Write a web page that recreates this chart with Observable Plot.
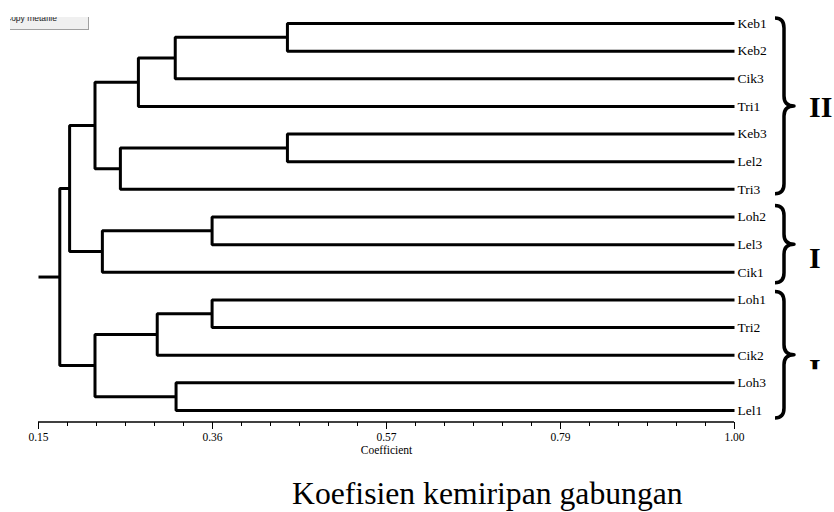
<!DOCTYPE html>
<html>
<head>
<meta charset="utf-8">
<script src="https://cdn.jsdelivr.net/npm/d3@7"></script>
<script src="https://cdn.jsdelivr.net/npm/@observablehq/plot@0.6"></script>
<style>
  html, body { margin: 0; padding: 0; background: #fff; }
  #wrap { position: relative; width: 834px; height: 512px; overflow: hidden; font-family: "Liberation Serif", "Times New Roman", serif; }
  #chart svg { display: block; }
  #title { position: absolute; left: 292px; top: 478px; font-size: 31.7px; line-height: 31px; white-space: nowrap; color: #000; font-family: "Liberation Serif", "Times New Roman", serif; }
  #btn { position: absolute; left: 10px; top: 17px; width: 78px; height: 12px; background: #f0f0f0; border-right: 1px solid #a0a0a0; border-bottom: 1px solid #a0a0a0; overflow: hidden; }
  #btn span { position: absolute; left: -5px; top: -4px; font: 8.5px "Liberation Sans", Arial, sans-serif; color: #222; white-space: nowrap; }
</style>
</head>
<body>
<div id="wrap">
  <div id="chart"></div>
  <div id="btn"><span>Copy metafile</span></div>
  <div id="title"></div>
</div>
<script>
// ---- data ----
const leaves = ["Keb1","Keb2","Cik3","Tri1","Keb3","Lel2","Tri3","Loh2","Lel3","Cik1","Loh1","Tri2","Cik2","Loh3","Lel1"];
const nodeIds   = ["n0","n1","n2","n3","n4","n5","n6","n7","n8","n9","n10","n11","n12","n13"];
const nodeLeft  = ["Keb1","n0","n1","Keb3","n3","n2","Loh2","n6","n5","Loh1","n9","Loh3","n10","n8"];
const nodeRight = ["Keb2","Cik3","Tri1","Lel2","Tri3","n4","Lel3","Cik1","n7","Tri2","Cik2","Lel1","n11","n12"];
const nodeCoef  = [0.454,0.317,0.272,0.454,0.250,0.219,0.362,0.228,0.188,0.362,0.295,0.318,0.219,0.176];
const tickValues = [0.15, 0.3625, 0.575, 0.7875, 1.00];
const tickLabels = ["0.15","0.36","0.57","0.79","1.00"];
const axisLabel = "Coefficient";
const groupLabels = ["II","I","I"];
const groupFirst  = ["Keb1","Loh2","Loh1"];
const groupLast   = ["Tri3","Cik1","Lel1"];
const titleText = "Koefisien kemiripan gabungan";

const SERIF = '"Liberation Serif", "Times New Roman", serif';

// ---- build tree geometry (data space) ----
const xMin = tickValues[0], xMax = tickValues[tickValues.length - 1];
const pos = {};
leaves.forEach((name, i) => { pos[name] = {h: xMax, y: i}; });
const segments = [];
nodeIds.forEach((id, i) => {
  const a = pos[nodeLeft[i]], b = pos[nodeRight[i]], h = nodeCoef[i];
  pos[id] = {h, y: (a.y + b.y) / 2};
  segments.push({id, x: a.h, y: a.y}, {id, x: h, y: a.y}, {id, x: h, y: b.y}, {id, x: b.h, y: b.y});
});
const root = pos[nodeIds[nodeIds.length - 1]];
segments.push({id: "root", x: xMin, y: root.y}, {id: "root", x: root.h, y: root.y});
const leafRows = leaves.map((name, i) => ({name, h: xMax, y: i}));
const minorTicks = d3.range(25).map(i => xMin + i * (xMax - xMin) / 24);

const W = 834, H = 470, MB = 48;
const chart = Plot.plot({
  width: W, height: H,
  marginLeft: 38, marginRight: 100, marginTop: 23, marginBottom: MB,
  x: {domain: [xMin, xMax], label: null},
  y: {domain: [0, leaves.length - 1], range: [23, 410], axis: null},
  style: {fontFamily: SERIF, fontSize: "11.5px", color: "#000", background: "#fff", overflow: "visible"},
  marks: [
    Plot.axisX({ticks: minorTicks, tickSize: 4, tickFormat: () => "", label: null}),
    Plot.axisX({ticks: tickValues, tickSize: 7, tickPadding: 3, tickFormat: d => tickLabels[tickValues.indexOf(d)], label: null, fill: "#000", fontFamily: SERIF, fontSize: 11.5}),
    Plot.line(segments, {x: "x", y: "y", z: "id", stroke: "#000", strokeWidth: 3, strokeLinejoin: "miter", strokeLinecap: "butt"}),
    Plot.text(leafRows, {x: "h", y: "y", text: "name", textAnchor: "start", dx: 3, fontSize: 13.5, fill: "#000", fontFamily: SERIF}),
    Plot.text([axisLabel], {text: d => d, frameAnchor: "bottom", dy: 31, fontSize: 11.5, fill: "#000", fontFamily: SERIF})
  ]
});
document.getElementById("chart").appendChild(chart);
document.getElementById("title").textContent = titleText;

// ---- axis line and braces ----
const svg = d3.select(chart);
const xs = chart.scale("x"), ys = chart.scale("y");
svg.append("line")
  .attr("x1", xs.apply(xMin)).attr("x2", xs.apply(xMax))
  .attr("y1", H - MB).attr("y2", H - MB)
  .attr("stroke", "#000").attr("stroke-width", 1.5);

const idx = {}; leaves.forEach((n, i) => idx[n] = i);
const xr = xs.apply(xMax);
const pads = [5, 11, 8];
const labelShift = [1, 14, 14];
const defs = svg.append("defs");
groupLabels.forEach((lab, i) => {
  const y0 = ys.apply(idx[groupFirst[i]]) - pads[i];
  const y1 = ys.apply(idx[groupLast[i]]) + pads[i];
  const yc = (y0 + y1) / 2;
  const xl = xr + 41, xm = xr + 50, xt = xr + 60, r = 10;
  const d = `M${xl},${y0} Q${xm},${y0} ${xm},${y0 + r} L${xm},${yc - r} Q${xm},${yc} ${xt},${yc} ` +
            `Q${xm},${yc} ${xm},${yc + r} L${xm},${y1 - r} Q${xm},${y1} ${xl},${y1}`;
  svg.append("path").attr("d", d).attr("fill", "none").attr("stroke", "#000")
    .attr("stroke-width", 3.5).attr("stroke-linejoin", "round");
  const cy = yc + labelShift[i];
  const t = svg.append("text")
    .attr("x", xr + 75).attr("y", cy + 0.33 * 30)
    .attr("text-anchor", "start")
    .style("font-family", SERIF)
    .attr("font-weight", "bold").attr("font-size", 30).attr("fill", "#000")
    .text(lab);
  if (i === 2) {
    defs.append("clipPath").attr("id", "clipI").append("rect")
      .attr("x", xr + 60).attr("y", cy - 20).attr("width", 40).attr("height", 20.5);
    t.attr("clip-path", "url(#clipI)");
  }
});
</script>
</body>
</html>
